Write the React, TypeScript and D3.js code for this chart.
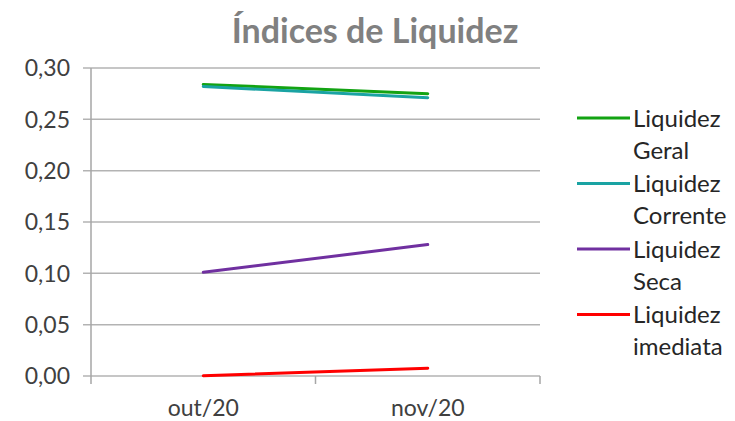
import * as d3 from "d3";

const categories = ["out/20", "nov/20"];
const seriesNames = ["Liquidez Geral", "Liquidez Corrente", "Liquidez Seca", "Liquidez imediata"];
const legendLines = [["Liquidez", "Geral"], ["Liquidez", "Corrente"], ["Liquidez", "Seca"], ["Liquidez", "imediata"]];
const geral = [0.284, 0.275];
const corrente = [0.282, 0.271];
const seca = [0.101, 0.128];
const imediata = [0.0002, 0.0075];
const colors = ["#13a313", "#1aa3a3", "#7030a0", "#ff0000"];
const yTicks = [0, 0.05, 0.1, 0.15, 0.2, 0.25, 0.3];

const W = 735, H = 421;
const left = 91, right = 540, top = 68, bottom = 376;

export default function App() {
  const series = [geral, corrente, seca, imediata];
  const x = d3.scaleBand().domain(categories).range([left, right]);
  const y = d3.scaleLinear().domain([0, 0.3]).range([bottom, top]);
  const line = d3.line<number>((d, i) => x(categories[i])! + x.bandwidth() / 2, (d) => y(d));
  const fmt = (v: number) => v.toFixed(2).replace(".", ",");
  const font = "Lato, 'Open Sans', sans-serif";
  const tickX = [left, ...categories.map((c) => x(c)! + x.bandwidth())];

  return (
    <svg width={W} height={H} style={{ position: "absolute", left: 0, top: 0 }} fontFamily={font}>
      <rect width={W} height={H} fill="#fff" />
      <text x={375} y={43} textAnchor="middle" fontSize={34} fontWeight="bold" fill="#808080">
        Índices de Liquidez
      </text>
      {yTicks.map((t) => (
        <g key={t}>
          <line x1={left - 8} x2={right} y1={y(t)} y2={y(t)} stroke="#b3b3b3" strokeWidth={1.5} />
          <text x={left - 21} y={y(t)} dy="0.36em" textAnchor="end" fontSize={23} fill="#404040">
            {fmt(t)}
          </text>
        </g>
      ))}
      <line x1={left} x2={left} y1={top} y2={bottom} stroke="#a6a6a6" strokeWidth={1.5} />
      {tickX.map((tx, i) => (
        <line key={i} x1={tx} x2={tx} y1={bottom} y2={bottom + 8} stroke="#a6a6a6" strokeWidth={1.5} />
      ))}
      {categories.map((c) => (
        <text key={c} x={x(c)! + x.bandwidth() / 2} y={bottom + 32} dy="0.36em" textAnchor="middle" fontSize={23} fill="#404040">
          {c}
        </text>
      ))}
      {series.map((s, i) => (
        <path key={seriesNames[i]} d={line(s)!} fill="none" stroke={colors[i]} strokeWidth={3} strokeLinecap="round" />
      ))}
      {legendLines.map((lines, i) => {
        const ly = 118 + i * 65.5;
        return (
          <g key={i}>
            <line x1={577} x2={630} y1={ly} y2={ly} stroke={colors[i]} strokeWidth={3} />
            <text x={633} y={ly} dy="0.36em" fontSize={24} fill="#262626">
              {lines[0]}
            </text>
            <text x={633} y={ly + 32} dy="0.36em" fontSize={24} fill="#262626">
              {lines[1]}
            </text>
          </g>
        );
      })}
    </svg>
  );
}
